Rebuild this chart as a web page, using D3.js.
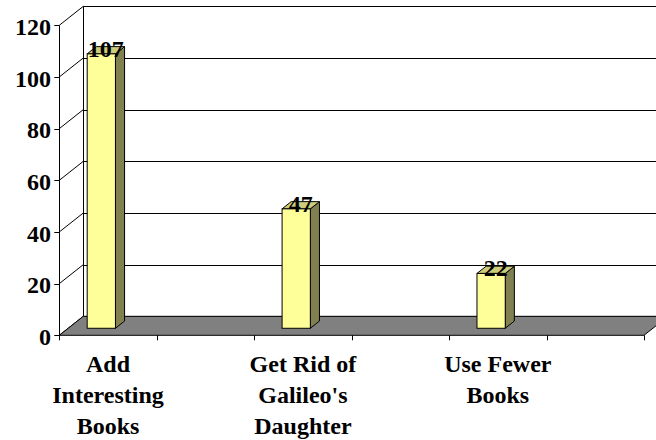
<!DOCTYPE html>
<html>
<head>
<meta charset="utf-8">
<script src="https://cdn.jsdelivr.net/npm/d3@7"></script>
</head>
<body style="margin:0;background:#fff">
<div id="chart"></div>
<script>
// 6 category slots, labels only on every other one (as in the original sheet)
const categories = ['Add|Interesting|Books', '', "Get Rid of|Galileo's|Daughter", '', 'Use Fewer|Books', ''];
const values = [107, null, 47, null, 22, null];
const yTicks = [0, 20, 40, 60, 80, 100, 120];

const width = 656, height = 440;
const depthX = 24, depthY = -19; // wall depth offset
const barZ0 = 0.37, barZ1 = 0.75; // bar depth inside the wall, fraction
const font = "'Liberation Serif', 'Times New Roman', 'DejaVu Serif', serif";

let svg = d3.select('#chart').append('svg')
    .attr('width', width)
    .attr('height', height)
    .style('display', 'block');

let y = d3.scaleLinear()
    .domain([0, 120])
    .range([335.3, 25.3]);

let x = d3.scaleBand()
    .domain(d3.range(categories.length))
    .range([59.3, 644])
    .padding(0);

const x0 = x.range()[0], x1 = x.range()[1];
const y0 = y(0), yTop = y(120);

// back wall gridlines
let g = svg.append('g');
g.selectAll('line.grid')
    .data(yTicks)
    .enter()
    .append('line')
    .attr('x1', x0 + depthX)
    .attr('x2', x1 + depthX)
    .attr('y1', d => Math.round(y(d) + depthY) + 0.5)
    .attr('y2', d => Math.round(y(d) + depthY) + 0.5)
    .attr('stroke', '#000');

// side wall diagonals
g.selectAll('line.diag')
    .data(yTicks)
    .enter()
    .append('line')
    .attr('x1', x0)
    .attr('y1', d => y(d))
    .attr('x2', x0 + depthX)
    .attr('y2', d => y(d) + depthY)
    .attr('stroke', '#000');

// back wall left edge
g.append('line')
    .attr('x1', Math.round(x0 + depthX) + 0.5).attr('x2', Math.round(x0 + depthX) + 0.5)
    .attr('y1', yTop + depthY).attr('y2', y0 + depthY)
    .attr('stroke', '#000');

// floor
g.append('path')
    .attr('d', d3.line()([[x0, y0], [x1, y0], [x1 + depthX, y0 + depthY], [x0 + depthX, y0 + depthY]]) + 'Z')
    .attr('fill', '#808080')
    .attr('stroke', '#000');

// front value axis
g.append('line')
    .attr('x1', Math.round(x0) + 0.5).attr('x2', Math.round(x0) + 0.5)
    .attr('y1', yTop).attr('y2', y0)
    .attr('stroke', '#000');

g.selectAll('line.ytick')
    .data(yTicks)
    .enter()
    .append('line')
    .attr('x1', x0 - 5).attr('x2', x0)
    .attr('y1', d => Math.round(y(d)) + 0.5)
    .attr('y2', d => Math.round(y(d)) + 0.5)
    .attr('stroke', '#000');

g.selectAll('text.ylab')
    .data(yTicks)
    .enter()
    .append('text')
    .attr('x', 51)
    .attr('y', d => y(d) + 9.7)
    .attr('text-anchor', 'end')
    .style('font-family', font)
    .style('font-weight', 'bold')
    .style('font-size', '24px')
    .text(d => d);

// category axis tick marks
g.selectAll('line.xtick')
    .data(d3.range(categories.length + 1))
    .enter()
    .append('line')
    .attr('x1', i => Math.round(x0 + i * x.bandwidth()) + 0.5)
    .attr('x2', i => Math.round(x0 + i * x.bandwidth()) + 0.5)
    .attr('y1', y0).attr('y2', y0 + 5)
    .attr('stroke', '#000');

g.selectAll('text.xlab')
    .data(categories.map((c, i) => ({c, i})).filter(d => d.c !== ''))
    .enter()
    .append('text')
    .attr('text-anchor', 'middle')
    .style('font-family', font)
    .style('font-weight', 'bold')
    .style('font-size', '24px')
    .each(function(d) {
        const t = d3.select(this);
        d.c.split('|').forEach((line, k) => {
            t.append('tspan')
                .attr('x', x(d.i) + x.bandwidth() / 2)
                .attr('y', 371.7 + k * 31.3)
                .text(line);
        });
    });

// bars
const barOff = 0.195, barW = 0.29;
const bars = values.map((v, i) => ({v, i})).filter(d => d.v != null);
const bx = d => x(d.i) + barOff * x.bandwidth() + barZ0 * depthX;
const bw = barW * x.bandwidth();
const ddx = (barZ1 - barZ0) * depthX, ddy = (barZ1 - barZ0) * depthY;
const byBase = y0 + barZ0 * depthY;
const byTop = d => y(d.v) + barZ0 * depthY + 2;

let b = svg.append('g').selectAll('g.bar')
    .data(bars)
    .enter()
    .append('g');

b.append('path')
    .attr('d', d => d3.line()([[bx(d) + bw, byTop(d)], [bx(d) + bw + ddx, byTop(d) + ddy],
        [bx(d) + bw + ddx, byBase + ddy], [bx(d) + bw, byBase]]) + 'Z')
    .attr('fill', '#808050')
    .attr('stroke', '#000');

b.append('path')
    .attr('d', d => d3.line()([[bx(d), byTop(d)], [bx(d) + bw, byTop(d)],
        [bx(d) + bw + ddx, byTop(d) + ddy], [bx(d) + ddx, byTop(d) + ddy]]) + 'Z')
    .attr('fill', '#cccc7a')
    .attr('stroke', '#000');

b.append('rect')
    .attr('x', bx)
    .attr('y', byTop)
    .attr('width', bw)
    .attr('height', d => byBase - byTop(d))
    .attr('fill', '#ffff99')
    .attr('stroke', '#000');

b.append('text')
    .attr('x', d => bx(d) + bw / 2 + ddx / 2)
    .attr('y', d => byTop(d) + 3)
    .attr('text-anchor', 'middle')
    .style('font-family', font)
    .style('font-weight', 'bold')
    .style('font-size', '24px')
    .text(d => d.v);
</script>
</body>
</html>
